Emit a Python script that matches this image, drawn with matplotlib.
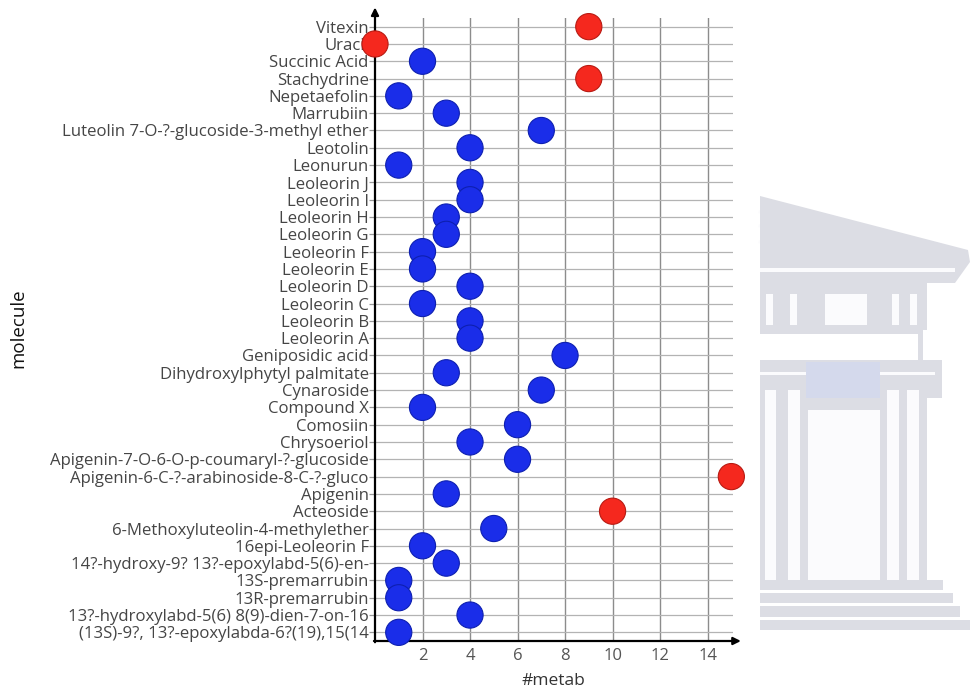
import matplotlib
matplotlib.use("Agg")
import matplotlib.pyplot as plt
from matplotlib.patches import Rectangle, Polygon

plt.rcParams['font.family'] = ['Open Sans', 'DejaVu Sans']

molecules = [
    "Vitexin", "Uracil", "Succinic Acid", "Stachydrine", "Nepetaefolin",
    "Marrubiin", "Luteolin 7-O-?-glucoside-3-methyl ether", "Leotolin",
    "Leonurun", "Leoleorin J", "Leoleorin I", "Leoleorin H", "Leoleorin G",
    "Leoleorin F", "Leoleorin E", "Leoleorin D", "Leoleorin C", "Leoleorin B",
    "Leoleorin A", "Geniposidic acid", "Dihydroxylphytyl palmitate",
    "Cynaroside", "Compound X", "Comosiin", "Chrysoeriol",
    "Apigenin-7-O-6-O-p-coumaryl-?-glucoside",
    "Apigenin-6-C-?-arabinoside-8-C-?-gluco", "Apigenin", "Acteoside",
    "6-Methoxyluteolin-4-methylether", "16epi-Leoleorin F",
    "14?-hydroxy-9? 13?-epoxylabd-5(6)-en-", "13S-premarrubin",
    "13R-premarrubin", "13?-hydroxylabd-5(6) 8(9)-dien-7-on-16",
    "(13S)-9?, 13?-epoxylabda-6?(19),15(14",
]
n_metab = [9, 0, 2, 9, 1, 3, 7, 4, 1, 4, 4, 3, 3, 2, 2, 4, 2, 4, 4, 8, 3,
           7, 2, 6, 4, 6, 15, 3, 10, 5, 2, 3, 1, 1, 4, 1]
group = ["r", "r", "b", "r", "b", "b", "b", "b", "b", "b", "b", "b", "b",
         "b", "b", "b", "b", "b", "b", "b", "b", "b", "b", "b", "b", "b",
         "r", "b", "r", "b", "b", "b", "b", "b", "b", "b"]
x_ticks = [2, 4, 6, 8, 10, 12, 14]

palette = {"b": "#1a2de9", "r": "#f5281e"}
edges = {"b": "#0d1fb0", "r": "#b81a12"}

W, H = 971, 690
fig = plt.figure(figsize=(W / 100, H / 100), dpi=100)


def fx(x):
    return x / W


def fy(y):
    return 1 - y / H


def rect(x0, y0, x1, y1, color):
    fig.patches.append(Rectangle((fx(x0), fy(y1)), fx(x1) - fx(x0),
                                 fy(y0) - fy(y1), transform=fig.transFigure,
                                 facecolor=color, edgecolor="none", zorder=0))


# faint building emblem in the background
grey = "#dcdde4"
light = "#fbfbfd"
fig.patches.append(Polygon([(fx(760), fy(196)), (fx(968), fy(250)),
                            (fx(970), fy(262)), (fx(955), fy(283)),
                            (fx(760), fy(283))], closed=True,
                           transform=fig.transFigure, facecolor=grey,
                           edgecolor="none", zorder=0))
for (ax0, ay0, ax1, ay1) in [(760, 212, 950, 258), (760, 226, 900, 262),
                             (760, 242, 820, 256)]:
    fig.lines.append(plt.Line2D([fx(ax0), fx(ax1)], [fy(ay0), fy(ay1)],
                                transform=fig.transFigure, color=light,
                                lw=2.2, zorder=0))
rect(760, 268, 955, 272, light)
rect(760, 283, 927, 330, grey)
for (a, b) in [(766, 773), (790, 797), (825, 867), (892, 899), (910, 917)]:
    rect(a, 294, b, 325, light)
rect(760, 330, 923, 334, grey)
rect(918, 334, 923, 360, grey)
rect(760, 360, 942, 398, grey)
rect(806, 362, 880, 398, "#d4d9ec")
rect(760, 372, 806, 375, light)
rect(880, 372, 935, 375, light)
rect(760, 398, 927, 580, grey)
for (a, b) in [(765, 776), (788, 800), (887, 899), (907, 919)]:
    rect(a, 390, b, 580, light)
rect(808, 410, 880, 580, light)
rect(760, 580, 943, 590, grey)
rect(760, 593, 953, 603, grey)
rect(760, 606, 960, 617, grey)
rect(760, 620, 970, 630, grey)

ax = fig.add_axes([fx(375), fy(641), fx(733) - fx(375), fy(18) - fy(641)])
ax.set_facecolor("none")

ypos = list(range(len(molecules)))
ax.scatter(n_metab, ypos, s=355, c=[palette[g] for g in group],
           edgecolors=[edges[g] for g in group], linewidths=0.8,
           zorder=4, clip_on=False)

ax.set_xlim(0, 15.07)
ax.set_ylim(len(molecules) - 0.5, -0.5)
ax.set_yticks(ypos)
ax.set_yticklabels(molecules)
ax.set_xticks(x_ticks)
ax.set_xticklabels([str(t) for t in x_ticks])

ax.tick_params(axis="y", length=4, width=0.9, color="#9a9a9a",
               labelsize=12.1, labelcolor="#454545", pad=0.5)
ax.tick_params(axis="x", length=0, labelsize=12, labelcolor="#555555",
               pad=5)

ax.yaxis.grid(True, color="#b3b3b3", lw=0.9)
ax.xaxis.grid(True, color="#8c8c8c", lw=1.0)
ax.set_axisbelow(True)
for s in ax.spines.values():
    s.set_visible(False)

arrow = dict(arrowstyle="-|>", color="black", lw=1.6, mutation_scale=11,
             shrinkA=0, shrinkB=0)
ax.annotate("", xy=(0, 1.017), xytext=(0, -0.002), xycoords="axes fraction",
            textcoords="axes fraction", arrowprops=arrow, annotation_clip=False)
ax.annotate("", xy=(1.022, 0), xytext=(-0.003, 0), xycoords="axes fraction",
            textcoords="axes fraction", arrowprops=arrow, annotation_clip=False)

fig.text(fx(553), fy(681), "#metab", ha="center", va="center", fontsize=12.5,
         color="#333333")
fig.text(fx(18), fy(328), "molecule", ha="center", va="center", fontsize=13.5,
         rotation=90, color="#111111")

fig.savefig("out.png", dpi=100)
